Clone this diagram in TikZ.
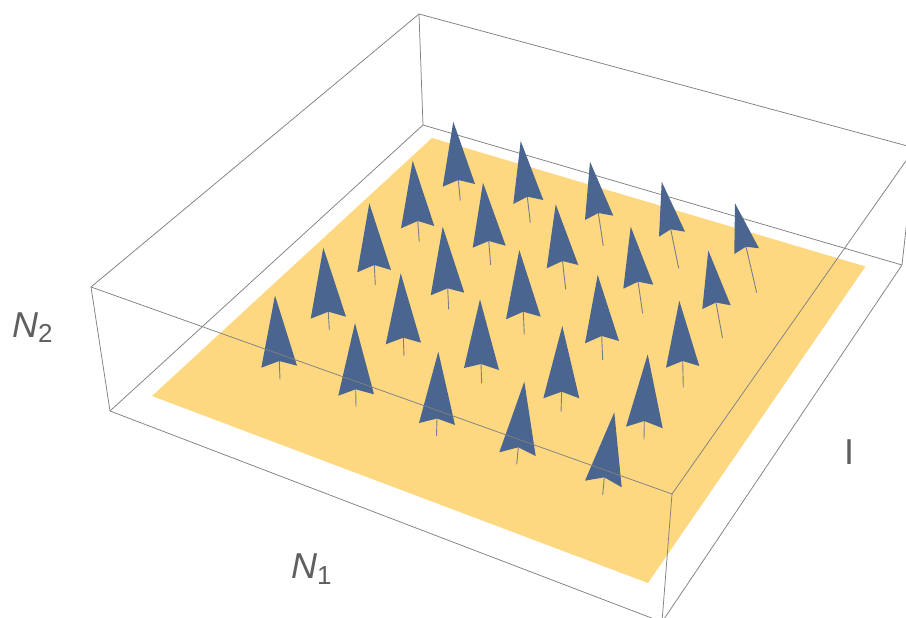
\documentclass[tikz,border=0pt]{standalone}
\usepackage{fontspec}
\setmainfont{Liberation Sans}
\definecolor{planec}{RGB}{254,216,128}
\definecolor{arrowc}{RGB}{74,101,143}
\definecolor{shaftc}{RGB}{120,126,138}
\definecolor{edgec}{RGB}{128,128,128}
\definecolor{labc}{RGB}{95,95,95}
\newcommand\vecarrow[5]{%
  \draw[shaftline] #4 -- #5;
  \fill[arrowc] #1 -- #3 -- #4 -- #2 -- cycle;}
\begin{document}
\begin{tikzpicture}[x=1pt,y=-1pt,
  boxedge/.style={draw=edgec,line width=0.75pt},
  shaftline/.style={draw=shaftc,line width=0.9pt},
  axlabel/.style={text=labc,inner sep=0pt,anchor=base west,font=\fontsize{36}{36}\selectfont}]
\useasboundingbox (0,0) rectangle (906,618);
\clip (0,0) rectangle (906,618);
% box vertices
\coordinate (TB) at (419,14);
\coordinate (TL) at (91,287);
\coordinate (TF) at (672,494);
\coordinate (TR) at (915,148);
\coordinate (BB) at (423,125);
\coordinate (BL) at (110,411);
\coordinate (BF) at (662,622);
\coordinate (BR) at (902,265);
% back / non-occluding edges
\draw[boxedge] (TL) -- (TB) -- (TR);
\draw[boxedge] (TB) -- (BB);
\draw[boxedge] (BL) -- (BB) -- (BR);
\draw[boxedge] (TL) -- (BL) -- (BF) -- (BR) -- (TR);
% plane
\coordinate (PL) at (152,396);
\coordinate (PT) at (432,138);
\coordinate (PR) at (865.5,266.5);
\coordinate (PB) at (648,583);
\fill[planec] (PL) -- (PT) -- (PR) -- (PB) -- cycle;
% arrows: tip, left barb, right barb, notch, shaft end
% row 1 (back)
\vecarrow{(453.3,121.7)}{(442.7,186.7)}{(475,184)}{(458.3,180)}{(460.3,200.7)}
\vecarrow{(520.7,141)}{(513.3,204)}{(543.3,200)}{(527.3,196.7)}{(530.3,222.7)}
\vecarrow{(590,161.7)}{(585,220)}{(613.3,215.7)}{(598.3,213)}{(603.3,246)}
\vecarrow{(661.7,181.7)}{(659,236.7)}{(685,231.7)}{(670.7,229.3)}{(678.7,268.3)}
\vecarrow{(735,203.3)}{(734.3,254)}{(759,248.3)}{(746,246.7)}{(756.7,292.7)}
% row 2
\vecarrow{(412.7,160.7)}{(401,228.3)}{(434.3,226)}{(417.7,221)}{(419.3,241.7)}
\vecarrow{(483,182.7)}{(472.7,247.7)}{(505.7,245.7)}{(488.7,241)}{(490.7,265)}
\vecarrow{(555.7,204.3)}{(546.7,268.3)}{(578.3,265)}{(562.5,261)}{(565.7,289.3)}
\vecarrow{(630.7,226.7)}{(623.3,288.7)}{(653.3,284.7)}{(638,281.7)}{(642.7,313.3)}
\vecarrow{(708.3,250.5)}{(702.3,309)}{(730.7,305.3)}{(716,302.5)}{(722.5,338)}
% row 3
\vecarrow{(369.3,203.3)}{(357.3,272.3)}{(391,270)}{(374.3,265)}{(375.3,285)}
\vecarrow{(442.7,226.7)}{(430.7,295.3)}{(464.3,292.7)}{(447.7,288.3)}{(448.7,309.3)}
\vecarrow{(519.3,250)}{(506,319.3)}{(540.7,316.7)}{(523.3,311.7)}{(524.3,334.3)}
\vecarrow{(597.7,275)}{(585,343.3)}{(619,341)}{(601.7,336)}{(602.7,360)}
\vecarrow{(679.3,300.7)}{(666,367.7)}{(699.3,366)}{(682.7,361)}{(683.3,387.3)}
% row 4
\vecarrow{(323.3,247.7)}{(310.7,318.7)}{(346,316.7)}{(328.3,311.7)}{(329.3,330)}
\vecarrow{(400.7,273.3)}{(385.7,344.3)}{(421,342.7)}{(403.3,337.7)}{(404,356)}
\vecarrow{(480,299.3)}{(464,368)}{(499,370)}{(481,364)}{(481.7,383.3)}
\vecarrow{(562.3,326)}{(543.3,398.3)}{(579.3,398.3)}{(561.7,391.7)}{(561,411.7)}
\vecarrow{(647.7,354.3)}{(626,426.7)}{(662.7,428.3)}{(644.3,421)}{(644,439.3)}
% row 5 (front)
\vecarrow{(275,295.5)}{(261.3,367.7)}{(297,365.7)}{(279.3,361)}{(280,379.3)}
\vecarrow{(355,323)}{(338.3,395.7)}{(374,394.3)}{(355.7,389.3)}{(356,406.7)}
\vecarrow{(438.3,351.7)}{(419,423)}{(455,425)}{(437,418.5)}{(436.5,436)}
\vecarrow{(524.3,381.7)}{(499.3,452.3)}{(535.7,456)}{(518.3,447.3)}{(516.7,464.3)}
\vecarrow{(614.3,412.3)}{(585,480.7)}{(621.7,487.3)}{(604.3,477.3)}{(602.7,495)}
% front edges
\draw[boxedge] (TL) -- (TF) -- (TR);
\draw[boxedge] (TF) -- (BF);
% labels
\node[axlabel] (n2) at (12,337) {\itshape N\raisebox{-5pt}{\upshape\fontsize{26}{26}\selectfont 2}};
\node[axlabel] (n1) at (291,578) {\itshape N\raisebox{-6pt}{\upshape\fontsize{26}{26}\selectfont 1}};
\node[axlabel] (n3) at (844,464) {I};
\end{tikzpicture}
\end{document}
